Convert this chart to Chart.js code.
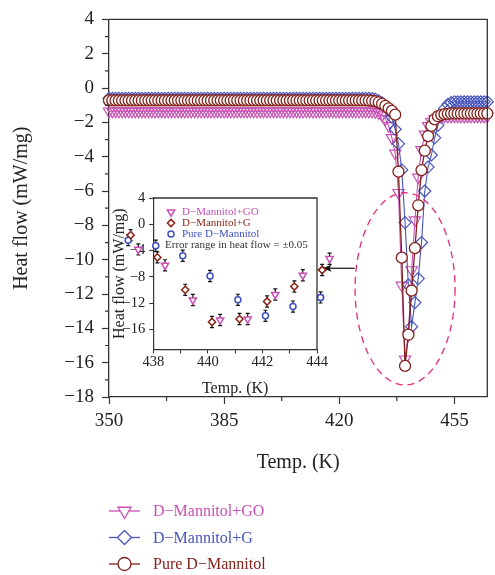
<!DOCTYPE html>
<html lang="en">
<head>
<meta charset="UTF-8">
<title>Heat flow of D-Mannitol samples</title>
<script src="https://cdn.jsdelivr.net/npm/chart.js@4.4.1/dist/chart.umd.min.js"></script>
<style>
  html, body { margin: 0; padding: 0; background: #fff; }
  #wrap { position: relative; width: 495px; height: 575px; }
  #mainChart { position: absolute; left: 0; top: 0; }
  #insetChart { position: absolute; left: 100px; top: 185px; }
</style>
</head>
<body>
<div id="wrap">
  <canvas id="mainChart" width="495" height="575"></canvas>
  <canvas id="insetChart" width="240" height="215"></canvas>
</div>
<script>
// ---- main plot data (K, mW/mg) ----
const temps = [
  350, 351, 352, 353, 354, 355, 356, 357, 358, 359,
  360, 361, 362, 363, 364, 365, 366, 367, 368, 369,
  370, 371, 372, 373, 374, 375, 376, 377, 378, 379,
  380, 381, 382, 383, 384, 385, 386, 387, 388, 389,
  390, 391, 392, 393, 394, 395, 396, 397, 398, 399,
  400, 401, 402, 403, 404, 405, 406, 407, 408, 409,
  410, 411, 412, 413, 414, 415, 416, 417, 418, 419,
  420, 421, 422, 423, 424, 425, 426, 427, 428, 429,
  430, 431, 432, 433, 434, 435, 436, 437, 438, 439,
  440, 441, 442, 443, 444, 445, 446, 447, 448, 449,
  450, 451, 452, 453, 454, 455, 456, 457, 458, 459,
  460, 461, 462, 463, 464, 465
];

const pureFlow = [
  -0.72, -0.72, -0.72, -0.72, -0.72, -0.72, -0.72, -0.72, -0.72, -0.72,
  -0.72, -0.72, -0.72, -0.72, -0.72, -0.72, -0.72, -0.72, -0.72, -0.72,
  -0.72, -0.72, -0.72, -0.72, -0.72, -0.72, -0.72, -0.72, -0.72, -0.72,
  -0.72, -0.72, -0.72, -0.72, -0.72, -0.72, -0.72, -0.72, -0.72, -0.72,
  -0.72, -0.72, -0.72, -0.72, -0.72, -0.72, -0.72, -0.72, -0.72, -0.72,
  -0.72, -0.72, -0.72, -0.72, -0.72, -0.72, -0.72, -0.72, -0.72, -0.72,
  -0.72, -0.72, -0.72, -0.72, -0.72, -0.72, -0.72, -0.72, -0.72, -0.72,
  -0.72, -0.72, -0.72, -0.72, -0.72, -0.72, -0.72, -0.72, -0.72, -0.73,
  -0.75, -0.78, -0.83, -0.92, -1.04, -1.18, -1.33, -1.55, -4.87, -9.88,
  -16.19, -14.37, -11.8, -9.33, -6.83, -4.78, -3.65, -2.8, -2.2, -1.82,
  -1.64, -1.56, -1.52, -1.5, -1.48, -1.48, -1.48, -1.48, -1.48, -1.48,
  -1.48, -1.48, -1.48, -1.48, -1.48, -1.48
];

const gFlow = [
  -0.6, -0.6, -0.6, -0.6, -0.6, -0.6, -0.6, -0.6, -0.6, -0.6,
  -0.6, -0.6, -0.6, -0.6, -0.6, -0.6, -0.6, -0.6, -0.6, -0.6,
  -0.6, -0.6, -0.6, -0.6, -0.6, -0.6, -0.6, -0.6, -0.6, -0.6,
  -0.6, -0.6, -0.6, -0.6, -0.6, -0.6, -0.6, -0.6, -0.6, -0.6,
  -0.6, -0.6, -0.6, -0.6, -0.6, -0.6, -0.6, -0.6, -0.6, -0.6,
  -0.6, -0.6, -0.6, -0.6, -0.6, -0.6, -0.6, -0.6, -0.6, -0.6,
  -0.6, -0.6, -0.6, -0.6, -0.6, -0.6, -0.6, -0.6, -0.6, -0.6,
  -0.6, -0.6, -0.6, -0.6, -0.6, -0.6, -0.6, -0.6, -0.6, -0.6,
  -0.62, -0.66, -0.74, -0.86, -1.04, -1.3, -1.7, -2.4, -3.25, -4.77,
  -7.84, -11.47, -13.9, -12.5, -11.1, -9.0, -6.0, -4.6, -3.9, -2.9,
  -2.16, -1.6, -1.2, -0.95, -0.85, -0.8, -0.8, -0.8, -0.8, -0.8,
  -0.8, -0.8, -0.8, -0.8, -0.8, -0.8
];

const goFlow = [
  -1.35, -1.35, -1.35, -1.35, -1.35, -1.35, -1.35, -1.35, -1.35, -1.35,
  -1.35, -1.35, -1.35, -1.35, -1.35, -1.35, -1.35, -1.35, -1.35, -1.35,
  -1.35, -1.35, -1.35, -1.35, -1.35, -1.35, -1.35, -1.35, -1.35, -1.35,
  -1.35, -1.35, -1.35, -1.35, -1.35, -1.35, -1.35, -1.35, -1.35, -1.35,
  -1.35, -1.35, -1.35, -1.35, -1.35, -1.35, -1.35, -1.35, -1.35, -1.35,
  -1.35, -1.35, -1.35, -1.35, -1.35, -1.35, -1.35, -1.35, -1.35, -1.35,
  -1.35, -1.35, -1.35, -1.35, -1.35, -1.35, -1.35, -1.35, -1.35, -1.35,
  -1.35, -1.35, -1.35, -1.35, -1.35, -1.35, -1.35, -1.35, -1.35, -1.35,
  -1.35, -1.38, -1.45, -1.58, -1.8, -2.2, -2.9, -3.8, -6.1, -11.5,
  -15.8, -14.4, -10.6, -7.7, -5.2, -3.6, -2.7, -2.2, -1.95, -1.8,
  -1.72, -1.68, -1.65, -1.65, -1.65, -1.65, -1.65, -1.65, -1.65, -1.65,
  -1.65, -1.65, -1.65, -1.65, -1.65, -1.65
];

const xMajorTicks = [350, 385, 420, 455];
const xMinorTicks = [367.5, 402.5, 437.5];
const yMinorTicks = [3, 1, -1, -3, -5, -7, -9, -11, -13, -15, -17];

// ---- inset data (zoom of the melting peak) ----
const insetGOTemp = [437.45, 438.43, 439.45, 440.45, 441.46, 442.47, 443.48, 444.46];
const insetGOFlow = [-3.81, -6.23, -11.5, -14.54, -14.39, -10.66, -7.74, -5.22];
const insetGTemp = [437.17, 438.15, 439.17, 440.15, 441.16, 442.17, 443.17, 444.19];
const insetGFlow = [-1.64, -5.02, -9.95, -14.84, -14.39, -11.72, -9.45, -6.93];
const insetPureTemp = [437.08, 438.09, 439.08, 440.08, 441.10, 442.11, 443.12, 444.13];
const insetPureFlow = [-2.4, -3.25, -4.77, -7.84, -11.47, -13.9, -12.5, -11.1];
const insetErr = 0.85;
const insetYTicks = [4, 0, -4, -8, -12, -16];

// annotation: dashed ellipse around the peak and arrow to the inset (data units)
const ellipseCenter = [440.0, -11.7];
const ellipseRadius = [15.2, 5.6];
const arrowFrom = [424.7, -10.5];
const arrowTo = [414.9, -10.5];

const colGO = '#c850b4';
const colG = '#4655be';
const colPure = '#84201a';
const colInsetG = '#8a2418';
const colInsetPure = '#3f4fc0';
const axisCol = '#333';
const SERIF = '"Liberation Serif", "Times New Roman", serif';

Chart.defaults.font.family = SERIF;
Chart.defaults.color = '#222';

const xy = (xs, ys) => xs.map((x, i) => ({ x: x, y: ys[i] }));
const fmt = v => (v < 0 ? '\u2212' + Math.abs(v) : String(v));

function marker(ctx, style, x, y, r, color, lw) {
  ctx.save();
  ctx.beginPath();
  if (style === 'circle') {
    ctx.arc(x, y, r, 0, Math.PI * 2);
  } else if (style === 'rectRot') {
    ctx.moveTo(x - r, y); ctx.lineTo(x, y - r); ctx.lineTo(x + r, y); ctx.lineTo(x, y + r);
    ctx.closePath();
  } else {
    ctx.moveTo(x, y + r); ctx.lineTo(x - r * 0.866, y - r / 2); ctx.lineTo(x + r * 0.866, y - r / 2);
    ctx.closePath();
  }
  ctx.fillStyle = '#fff';
  ctx.fill();
  ctx.lineWidth = lw;
  ctx.strokeStyle = color;
  ctx.stroke();
  ctx.restore();
}

function drawFrame(chart) {
  const { ctx, chartArea: a } = chart;
  ctx.save();
  ctx.strokeStyle = axisCol;
  ctx.lineWidth = 1.3;
  ctx.beginPath();
  ctx.moveTo(a.left, a.top); ctx.lineTo(a.right, a.top); ctx.lineTo(a.right, a.bottom);
  ctx.stroke();
  ctx.restore();
}

const mainExtras = {
  id: 'mainExtras',
  afterDatasetsDraw(chart) {
    const { ctx, scales: { x, y } } = chart;
    // dashed ellipse
    ctx.save();
    ctx.strokeStyle = '#e8287c';
    ctx.lineWidth = 1.3;
    ctx.setLineDash([7, 5]);
    const cx = x.getPixelForValue(ellipseCenter[0]);
    const cy = y.getPixelForValue(ellipseCenter[1]);
    const rx = x.getPixelForValue(ellipseCenter[0] + ellipseRadius[0]) - cx;
    const ry = cy - y.getPixelForValue(ellipseCenter[1] + ellipseRadius[1]);
    ctx.beginPath();
    ctx.ellipse(cx, cy, rx, ry, 0, 0, Math.PI * 2);
    ctx.stroke();
    ctx.restore();
    // arrow
    const x0 = x.getPixelForValue(arrowFrom[0]), y0 = y.getPixelForValue(arrowFrom[1]);
    const x1 = x.getPixelForValue(arrowTo[0]), y1 = y.getPixelForValue(arrowTo[1]);
    ctx.save();
    ctx.strokeStyle = '#111';
    ctx.fillStyle = '#111';
    ctx.lineWidth = 1.2;
    ctx.beginPath();
    ctx.moveTo(x0, y0); ctx.lineTo(x1 + 6, y1);
    ctx.stroke();
    ctx.beginPath();
    ctx.moveTo(x1, y1); ctx.lineTo(x1 + 9, y1 - 3.5); ctx.lineTo(x1 + 7, y1); ctx.lineTo(x1 + 9, y1 + 3.5);
    ctx.closePath();
    ctx.fill();
    ctx.restore();
  },
  afterDraw(chart) {
    const { ctx, chartArea: a, scales: { x, y } } = chart;
    drawFrame(chart);
    // minor ticks
    ctx.save();
    ctx.strokeStyle = axisCol;
    ctx.lineWidth = 1.2;
    ctx.beginPath();
    xMinorTicks.forEach(v => {
      const px = x.getPixelForValue(v);
      ctx.moveTo(px, a.bottom); ctx.lineTo(px, a.bottom + 4);
    });
    yMinorTicks.forEach(v => {
      const py = y.getPixelForValue(v);
      ctx.moveTo(a.left, py); ctx.lineTo(a.left - 4, py);
    });
    ctx.stroke();
    ctx.restore();
    // legend below the plot
    const rows = [
      { text: 'D\u2212Mannitol+GO', color: colGO, style: 'triangle', r: 7.5 },
      { text: 'D\u2212Mannitol+G', color: colG, style: 'rectRot', r: 7 },
      { text: 'Pure D\u2212Mannitol', color: colPure, style: 'circle', r: 6.5 }
    ];
    rows.forEach((row, i) => {
      const ly = 511 + i * 26.5;
      ctx.save();
      ctx.strokeStyle = row.color;
      ctx.lineWidth = 1.3;
      ctx.beginPath();
      ctx.moveTo(109, ly); ctx.lineTo(140, ly);
      ctx.stroke();
      ctx.restore();
      marker(ctx, row.style, 124.5, ly, row.r, row.color, 1.3);
      ctx.save();
      ctx.fillStyle = row.color;
      ctx.font = '16px ' + SERIF;
      ctx.textBaseline = 'middle';
      ctx.fillText(row.text, 153, ly + 1);
      ctx.restore();
    });
  }
};

new Chart(document.getElementById('mainChart'), {
  type: 'line',
  data: {
    datasets: [
      {
        label: 'Pure D\u2212Mannitol',
        data: xy(temps, pureFlow),
        borderColor: colPure,
        borderWidth: 1.3,
        pointStyle: 'circle',
        pointRadius: 5.5,
        pointBorderWidth: 1.3,
        pointBorderColor: colPure,
        pointBackgroundColor: '#fff',
        clip: false
      },
      {
        label: 'D\u2212Mannitol+G',
        data: xy(temps, gFlow),
        borderColor: colG,
        borderWidth: 1.1,
        pointStyle: 'rectRot',
        pointRadius: 6,
        pointBorderWidth: 1.2,
        pointBorderColor: colG,
        pointBackgroundColor: 'rgba(255,255,255,0)',
        clip: false
      },
      {
        label: 'D\u2212Mannitol+GO',
        data: xy(temps, goFlow),
        borderColor: colGO,
        borderWidth: 1.1,
        pointStyle: 'triangle',
        rotation: 180,
        pointRadius: 6.5,
        pointBorderWidth: 1.2,
        pointBorderColor: colGO,
        pointBackgroundColor: 'rgba(255,255,255,0)',
        clip: false
      }
    ]
  },
  options: {
    responsive: false,
    animation: false,
    devicePixelRatio: 1,
    layout: { padding: { left: 0, right: 7, top: 17, bottom: 100 } },
    plugins: { legend: { display: false }, tooltip: { enabled: false } },
    scales: {
      x: {
        type: 'linear',
        min: 350,
        max: 465,
        afterBuildTicks: ax => { ax.ticks = xMajorTicks.map(v => ({ value: v })); },
        afterFit: ax => { ax.height = 78; },
        grid: { drawOnChartArea: false, tickLength: 7, tickColor: axisCol, tickWidth: 1.2 },
        border: { color: axisCol, width: 1.3 },
        ticks: { padding: 6, font: { size: 19 }, color: '#222', maxRotation: 0, autoSkip: false },
        title: { display: true, text: 'Temp. (K)', font: { size: 20 }, color: '#222', padding: 0 }
      },
      y: {
        min: -18,
        max: 4,
        afterFit: ax => { ax.width = 109; },
        grid: { drawOnChartArea: false, tickLength: 7, tickColor: axisCol, tickWidth: 1.2 },
        border: { color: axisCol, width: 1.3 },
        ticks: { stepSize: 2, padding: 8, font: { size: 19 }, color: '#222', callback: v => fmt(v) },
        title: { display: true, text: 'Heat flow (mW/mg)', font: { size: 20 }, color: '#222', padding: { top: 10, bottom: 0 } }
      }
    }
  },
  plugins: [mainExtras]
});

const insetExtras = {
  id: 'insetExtras',
  beforeDatasetsDraw(chart) {
    const { ctx, scales: { y } } = chart;
    ctx.save();
    ctx.strokeStyle = '#111';
    ctx.lineWidth = 1.2;
    chart.data.datasets.forEach((ds, di) => {
      const meta = chart.getDatasetMeta(di);
      meta.data.forEach((pt, i) => {
        const v = ds.data[i].y;
        const top = y.getPixelForValue(v + insetErr);
        const bot = y.getPixelForValue(v - insetErr);
        ctx.beginPath();
        ctx.moveTo(pt.x, top); ctx.lineTo(pt.x, bot);
        ctx.moveTo(pt.x - 2, top); ctx.lineTo(pt.x + 2, top);
        ctx.moveTo(pt.x - 2, bot); ctx.lineTo(pt.x + 2, bot);
        ctx.stroke();
      });
    });
    ctx.restore();
  },
  afterDatasetsDraw(chart) {
    // Chart.js skips points outside the plot area; the inset shows them anyway
    const { ctx, chartArea: a } = chart;
    for (let di = chart.data.datasets.length - 1; di >= 0; di--) {
      const ds = chart.data.datasets[di];
      const meta = chart.getDatasetMeta(di);
      meta.data.forEach(pt => {
        if (pt.x < a.left - 2 || pt.x > a.right + 2) {
          marker(ctx, ds.pointStyle, pt.x, pt.y, ds.pointRadius, ds.borderColor, ds.pointBorderWidth);
        }
      });
    }
  },
  afterDraw(chart) {
    const { ctx } = chart;
    drawFrame(chart);
    const rows = [
      { text: 'D\u2212Mannitol+GO', color: colGO, style: 'triangle', r: 4.2 },
      { text: 'D\u2212Mannitol+G', color: colInsetG, style: 'rectRot', r: 3.6 },
      { text: 'Pure D\u2212Mannitol', color: colInsetPure, style: 'circle', r: 3 }
    ];
    rows.forEach((row, i) => {
      const ly = 27 + i * 11;
      marker(ctx, row.style, 71, ly, row.r, row.color, 1.5);
      ctx.save();
      ctx.fillStyle = row.color;
      ctx.font = '11px ' + SERIF;
      ctx.textBaseline = 'middle';
      ctx.fillText(row.text, 82, ly + 0.5);
      ctx.restore();
    });
    ctx.save();
    ctx.fillStyle = '#333';
    ctx.font = '11px ' + SERIF;
    ctx.textBaseline = 'middle';
    ctx.fillText('Error range in heat flow = \u00b10.05', 65, 60.5);
    ctx.restore();
  }
};

new Chart(document.getElementById('insetChart'), {
  type: 'scatter',
  data: {
    datasets: [
      {
        label: 'D\u2212Mannitol+GO',
        data: xy(insetGOTemp, insetGOFlow),
        pointStyle: 'triangle',
        rotation: 180,
        pointRadius: 4.2,
        pointBorderWidth: 1.5,
        borderColor: colGO,
        backgroundColor: '#fff',
        clip: false
      },
      {
        label: 'D\u2212Mannitol+G',
        data: xy(insetGTemp, insetGFlow),
        pointStyle: 'rectRot',
        pointRadius: 3.6,
        pointBorderWidth: 1.5,
        borderColor: colInsetG,
        backgroundColor: '#fff',
        clip: false
      },
      {
        label: 'Pure D\u2212Mannitol',
        data: xy(insetPureTemp, insetPureFlow),
        pointStyle: 'circle',
        pointRadius: 3,
        pointBorderWidth: 1.5,
        borderColor: colInsetPure,
        backgroundColor: '#fff',
        clip: false
      }
    ]
  },
  options: {
    responsive: false,
    animation: false,
    devicePixelRatio: 1,
    layout: { padding: { left: 0, right: 23, top: 13, bottom: 2 } },
    plugins: { legend: { display: false }, tooltip: { enabled: false } },
    scales: {
      x: {
        type: 'linear',
        min: 438,
        max: 444,
        afterFit: ax => { ax.height = 48.6; },
        grid: { drawOnChartArea: false, tickLength: 4, tickColor: axisCol, tickWidth: 1.1 },
        border: { color: axisCol, width: 1.2 },
        ticks: { stepSize: 1, autoSkip: false, maxRotation: 0, padding: 0, font: { size: 14.5 }, color: '#222',
                 callback: v => (v % 2 === 0 ? String(v) : '') },
        title: { display: true, text: 'Temp. (K)', font: { size: 16 }, color: '#222', padding: 0 }
      },
      y: {
        min: -19,
        max: 4,
        afterBuildTicks: ax => { ax.ticks = insetYTicks.map(v => ({ value: v })); },
        afterFit: ax => { ax.width = 53.3; },
        grid: { drawOnChartArea: false, tickLength: 4, tickColor: axisCol, tickWidth: 1.1 },
        border: { color: axisCol, width: 1.2 },
        ticks: { padding: 4, font: { size: 14.5 }, color: '#222', callback: v => fmt(v) },
        title: { display: true, text: 'Heat flow (mW/mg)', font: { size: 16 }, color: '#222', padding: { top: 10.5, bottom: 0 } }
      }
    }
  },
  plugins: [insetExtras]
});
</script>
</body>
</html>
